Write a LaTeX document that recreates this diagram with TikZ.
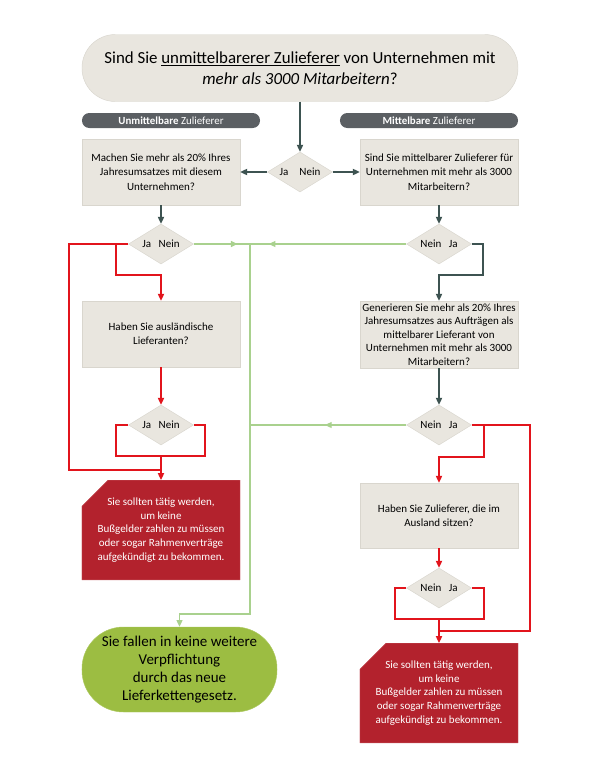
\documentclass[tikz,border=0pt]{standalone}
\usepackage{fontspec}
\setmainfont{Carlito}
\usetikzlibrary{shapes.geometric,shapes.misc,arrows.meta,decorations.markings}
\definecolor{boxgray}{HTML}{E9E6DF}
\definecolor{boxline}{HTML}{D9D6CE}
\definecolor{darkline}{HTML}{3D5351}
\definecolor{redline}{HTML}{E2141C}
\definecolor{redbox}{HTML}{B3222D}
\definecolor{greenline}{HTML}{A9D18E}
\definecolor{greenbox}{HTML}{9CBD42}
\definecolor{barcol}{HTML}{5B5F63}
\tikzset{
  frage/.style={rectangle,fill=boxgray,draw=boxline,minimum width=4.74cm,
    minimum height=1.98cm,align=center,inner sep=2pt,
    font=\fontsize{9.4}{12.3}\selectfont},
  raute/.style={diamond,fill=boxgray,draw=boxline,inner sep=0pt,aspect=1.6,
    minimum width=1.95cm,minimum height=1.2cm,font=\fontsize{9.4}{10}\selectfont},
  leiste/.style={rectangle,rounded corners=0.22cm,fill=barcol,text=white,
    minimum width=5.34cm,minimum height=0.45cm,inner sep=0pt,
    font=\fontsize{9.3}{10}\selectfont},
  warnung/.style={chamfered rectangle,chamfered rectangle corners=north west,
    chamfered rectangle xsep=0.33cm,chamfered rectangle ysep=0.45cm,
    fill=redbox,draw=redbox!80!white,text=white,minimum width=4.74cm,
    minimum height=2.82cm,align=center,inner sep=2pt,
    font=\fontsize{9.4}{11.8}\selectfont},
  dunkel/.style={draw=darkline,line width=1pt,-{Triangle[length=2.1mm,width=1.9mm]}},
  rot/.style={draw=redline,line width=1pt,-{Triangle[length=2.1mm,width=1.9mm]}},
  rotlinie/.style={draw=redline,line width=1pt},
  gruenlinie/.style={draw=greenline,line width=1pt},
  gruenpfeil/.style={gruenlinie,postaction={decorate},decoration={markings,
    mark=at position #1 with {\arrow{Triangle[length=2mm,width=1.8mm]}}}}
}
\begin{document}
\begin{tikzpicture}[x=0.03cm,y=-0.03cm]
\useasboundingbox (0,0) rectangle (600,776);
\node[rectangle,rounded corners=1cm,fill=boxgray,draw=boxline,minimum width=13.08cm,
  minimum height=2.01cm,align=center,font=\fontsize{14.4}{17.5}\selectfont] (start) at (300,68)
  {Sind Sie \underline{unmittelbarerer Zulieferer} von Unternehmen mit\\
  \textit{mehr als 3000 Mitarbeitern}?};
\node[leiste] (unmit) at (171,120.5) {\textbf{Unmittelbare} Zulieferer};
\node[leiste] (mit) at (429,120.5) {\textbf{Mittelbare} Zulieferer};

\node[raute] (d0) at (300,172) {Ja\quad Nein};
\node[frage] (u1) at (161,172) {Machen Sie mehr als 20\% Ihres\\Jahresumsatzes mit diesem\\Unternehmen?};
\node[frage] (m1) at (439,172) {Sind Sie mittelbarer Zulieferer für\\Unternehmen mit mehr als 3000\\Mitarbeitern?};
\node[raute] (du1) at (161,244) {Ja\ \ \ Nein};
\node[raute] (dm1) at (439,244) {Nein\ \ \ Ja};
\node[frage] (u2) at (161,334) {Haben Sie ausländische\\Lieferanten?};
\node[frage,minimum height=2.01cm,font=\fontsize{9.4}{11.5}\selectfont] (m2) at (439,334.5) {Generieren Sie mehr als 20\% Ihres\\Jahresumsatzes aus Aufträgen als\\mittelbarer Lieferant von\\Unternehmen mit mehr als 3000\\Mitarbeitern?};
\node[raute] (du2) at (161,425) {Ja\ \ \ Nein};
\node[raute] (dm2) at (439,425) {Nein\ \ \ Ja};
\node[warnung] (wu) at (161,530) {Sie sollten tätig werden,\\um keine\\Bußgelder zahlen zu müssen\\oder sogar Rahmenverträge\\aufgekündigt zu bekommen.};
\node[frage,minimum height=1.95cm] (m3) at (439,515.5) {Haben Sie Zulieferer, die im\\Ausland sitzen?};
\node[raute] (dm3) at (439,588) {Nein\ \ \ Ja};
\node[warnung] (wm) at (439,693) {Sie sollten tätig werden,\\um keine\\Bußgelder zahlen zu müssen\\oder sogar Rahmenverträge\\aufgekündigt zu bekommen.};
\node[rectangle,rounded corners=1.25cm,fill=greenbox,draw=greenbox!85!white,
  minimum width=5.85cm,minimum height=2.55cm,align=center,
  font=\fontsize{12.8}{15.6}\selectfont] (frei) at (179.5,669.5)
  {Sie fallen in keine weitere\\Verpflichtung\\durch das neue\\Lieferkettengesetz.};

\coordinate (hub) at (250,244);
\coordinate (hub2) at (250,425);
\coordinate (knick) at (250,614);

\draw[dunkel] (start) -- (d0);
\draw[dunkel] (d0) -- (u1);
\draw[dunkel] (d0) -- (m1);
\draw[dunkel] (u1) -- (du1);
\draw[dunkel] (m1) -- (dm1);
\draw[dunkel] (dm1.east) -- (483,244) -- (483,275) -| (m2.north);
\draw[dunkel] (m2) -- (dm2);

\draw[rotlinie] (du1.west) -- (69,244) -- (69,470) -- (161,470);
\draw[rot] (116,244) -- (116,275) -| (u2.north);
\draw[rot] (u2) -- (du2);
\draw[rotlinie] (du2.west) -- (116,425) -- (116,456) -- (205,456) -- (205,425) -- (du2.east);
\draw[rot] (161,456) -- (wu.north);

\draw[rotlinie] (dm2.east) -- (530,425) -- (530,631) -- (439,631);
\draw[rot] (484,425) -- (484,457) -| (m3.north);
\draw[rot] (m3) -- (dm3);
\draw[rotlinie] (dm3.west) -- (395,588) -- (395,619) -- (484,619) -- (484,588) -- (dm3.east);
\draw[rot] (439,619) -- (wm.north);

\draw[gruenpfeil=0.78] (du1.east) -- (hub);
\draw[gruenpfeil=0.88] (dm1.west) -- (hub);
\draw[gruenpfeil=0.52] (dm2.west) -- (hub2);
\draw[gruenlinie,-{Triangle[length=2mm,width=1.8mm]}] (hub) -- (knick) -| (frei.north);
\end{tikzpicture}
\end{document}
